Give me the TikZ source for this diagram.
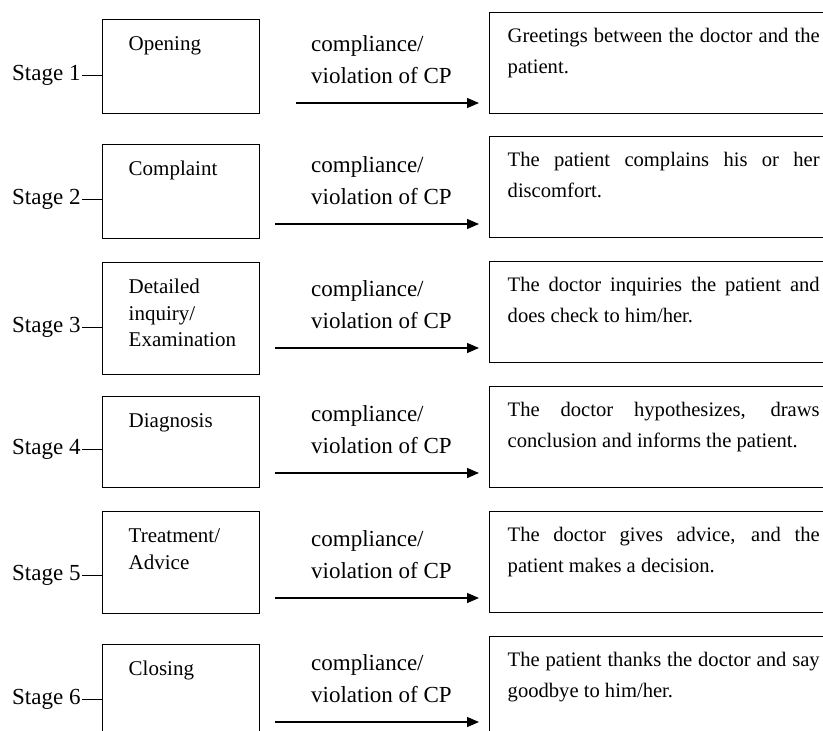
\documentclass[tikz,border=0pt]{standalone}
\usepackage{fontspec}
\setmainfont{Liberation Serif}
\usetikzlibrary{arrows.meta}
\hyphenpenalty=10000
\exhyphenpenalty=10000

\begin{document}
\begin{tikzpicture}[x=1pt, y=-1pt,
    stagelabel/.style={anchor=west, inner sep=1.5pt, font=\fontsize{23}{28}\selectfont},
    stagetick/.style={line width=0.8pt},
    phasebox/.style={draw, line width=1.4pt, anchor=north west, inner xsep=26pt, inner ysep=0pt,
      text width=105pt, align=left, text height=31pt, text depth=#1,
      font=\fontsize{21}{26.5}\selectfont},
    cplabel/.style={anchor=west, inner sep=0pt, align=left, font=\fontsize{23}{32}\selectfont},
    descbox/.style={draw, line width=1.4pt, anchor=north west, inner xsep=18pt, inner ysep=0pt,
      text width=312pt, align=justify, text height=30pt, text depth=71pt,
      font=\fontsize{20.6}{30.5}\selectfont},
    cparrow/.style={line width=1.3pt, -{Triangle[length=12pt,width=10pt]}, shorten >=10pt}]
    \useasboundingbox (0,0) rectangle (823,731);

    % stage 1
    \node[phasebox=63] (p1) at (102,19) {Opening};
    \node[stagelabel] (s1) at (10.5,75) {Stage 1};
    \node[cplabel] (cp1) at (311,60) {compliance/\\violation of CP};
    \node[descbox] (d1) at (489,12) {Greetings between the doctor and the patient.};
    \coordinate (a1) at (296,103);
    \draw[stagetick] (s1.east) -- (s1.east -| p1.west);
    \draw[cparrow] (a1) -- (a1 -| d1.west);

    % stage 2
    \node[phasebox=63] (p2) at (102,144) {Complaint};
    \node[stagelabel] (s2) at (10.5,199) {Stage 2};
    \node[cplabel] (cp2) at (311,181) {compliance/\\violation of CP};
    \node[descbox] (d2) at (489,136) {The patient complains his or her discomfort.};
    \coordinate (a2) at (275,224);
    \draw[stagetick] (s2.east) -- (s2.east -| p2.west);
    \draw[cparrow] (a2) -- (a2 -| d2.west);

    % stage 3
    \node[phasebox=81] (p3) at (102,262) {Detailed\\inquiry/\\Examination};
    \node[stagelabel] (s3) at (10.5,327) {Stage 3};
    \node[cplabel] (cp3) at (311,305) {compliance/\\violation of CP};
    \node[descbox] (d3) at (489,261) {The doctor inquiries the patient and does check to him/her.};
    \coordinate (a3) at (275,348);
    \draw[stagetick] (s3.east) -- (s3.east -| p3.west);
    \draw[cparrow] (a3) -- (a3 -| d3.west);

    % stage 4
    \node[phasebox=60] (p4) at (102,396) {Diagnosis};
    \node[stagelabel] (s4) at (10.5,449) {Stage 4};
    \node[cplabel] (cp4) at (311,430) {compliance/\\violation of CP};
    \node[descbox] (d4) at (489,386) {The doctor hypothesizes, draws conclusion and informs the patient.};
    \coordinate (a4) at (275,473);
    \draw[stagetick] (s4.east) -- (s4.east -| p4.west);
    \draw[cparrow] (a4) -- (a4 -| d4.west);

    % stage 5
    \node[phasebox=71] (p5) at (102,511) {Treatment/\\Advice};
    \node[stagelabel] (s5) at (10.5,575) {Stage 5};
    \node[cplabel] (cp5) at (311,555) {compliance/\\violation of CP};
    \node[descbox] (d5) at (489,511) {The doctor gives advice, and the patient makes a decision.};
    \coordinate (a5) at (275,598);
    \draw[stagetick] (s5.east) -- (s5.east -| p5.west);
    \draw[cparrow] (a5) -- (a5 -| d5.west);

    % stage 6
    \node[phasebox=69] (p6) at (102,644) {Closing};
    \node[stagelabel] (s6) at (10.5,699) {Stage 6};
    \node[cplabel] (cp6) at (311,679) {compliance/\\violation of CP};
    \node[descbox] (d6) at (489,636) {The patient thanks the doctor and say goodbye to him/her.};
    \coordinate (a6) at (275,722);
    \draw[stagetick] (s6.east) -- (s6.east -| p6.west);
    \draw[cparrow] (a6) -- (a6 -| d6.west);
  \end{tikzpicture}
\end{document}
